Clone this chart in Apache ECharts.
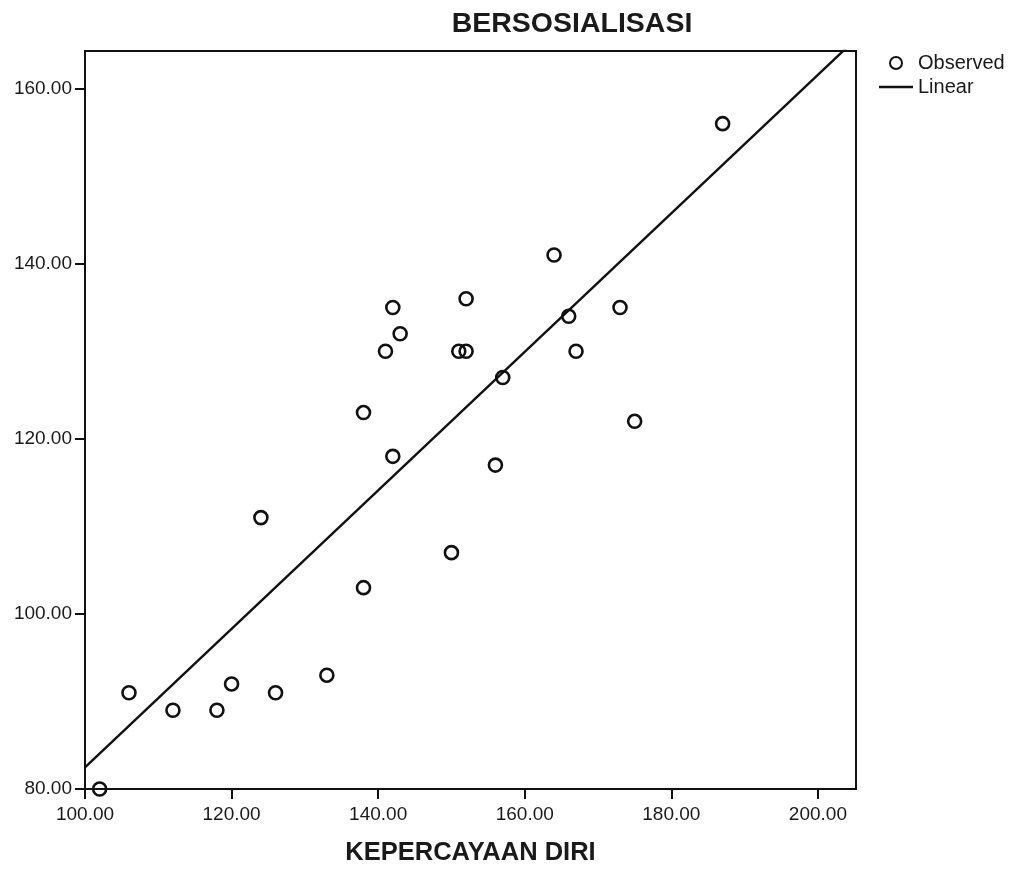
<!DOCTYPE html>
<html>
<head>
<meta charset="utf-8">
<script src="https://cdn.jsdelivr.net/npm/echarts@6/dist/echarts.min.js"></script>
<style>html,body{margin:0;padding:0;background:#fff;}#c{width:1013px;height:871px;}</style>
</head>
<body>
<div id="c"></div>
<script>
var kepercayaanDiri = [102,106,112,118,120,126,133,124,138,138,142,142,143,141,151,152,152,156,157,164,166,167,173,175,150,187];
var bersosialisasi  = [80, 91, 89, 89, 92, 91, 93, 111,103,123,118,135,132,130,130,130,136,117,127,141,134,130,135,122,107,156];
var xTicks = [100,120,140,160,180,200];
var yTicks = [80,100,120,140,160];

var observed = kepercayaanDiri.map(function(x,i){return [x, bersosialisasi[i]];});
// least-squares linear fit (as in the original "Linear" fit line)
var n = kepercayaanDiri.length, mx = 0, my = 0;
for (var i=0;i<n;i++){mx+=kepercayaanDiri[i];my+=bersosialisasi[i];}
mx/=n; my/=n;
var sxy=0,sxx=0;
for (var i=0;i<n;i++){sxy+=(kepercayaanDiri[i]-mx)*(bersosialisasi[i]-my);sxx+=(kepercayaanDiri[i]-mx)*(kepercayaanDiri[i]-mx);}
var b = sxy/sxx, a = my - b*mx;
var xMin = 100, xMax = 205.2, yMin = 80, yMax = 164.3;
var fitLine = [[xMin, a+b*xMin],[xMax, a+b*xMax]];

var font = 'Liberation Sans, Arial, sans-serif';
var chart = echarts.init(document.getElementById('c'));
chart.setOption({
  animation: false,
  backgroundColor: '#fff',
  title: {
    text: 'BERSOSIALISASI', left: 572, top: 10, textAlign: 'center', padding: 0,
    textStyle: {fontFamily: font, fontSize: 28.5, fontWeight: 'bold', color: '#1a1a1a'}
  },
  legend: {
    orient: 'vertical', left: 874, top: 48, itemWidth: 34, itemHeight: 12, itemGap: 4,
    textStyle: {fontFamily: font, fontSize: 20, color: '#1a1a1a'},
    data: [{name: 'Observed'}, {name: 'Linear', icon: 'path://M0,0H34V2.4H0Z', itemStyle: {color: '#111'}}]
  },
  grid: {left: 85, top: 51, right: 157, bottom: 81, show: true, borderColor: '#111', borderWidth: 2},
  xAxis: {
    type: 'value', min: xMin, max: xMax,
    name: 'KEPERCAYAAN DIRI', nameLocation: 'middle', nameGap: 51,
    nameTextStyle: {fontFamily: font, fontSize: 25.5, fontWeight: 'bold', color: '#1a1a1a'},
    axisLine: {show: true, lineStyle: {color: '#111', width: 2}},
    axisTick: {show: true, length: 10, lineStyle: {color: '#111', width: 2}, customValues: xTicks},
    axisLabel: {fontFamily: font, fontSize: 19, color: '#1a1a1a', margin: 16, customValues: xTicks,
      formatter: function(v){return v.toFixed(2);}},
    splitLine: {show: false}
  },
  yAxis: {
    type: 'value', min: yMin, max: yMax,
    axisLine: {show: true, lineStyle: {color: '#111', width: 2}},
    axisTick: {show: true, length: 10, lineStyle: {color: '#111', width: 2}, customValues: yTicks},
    axisLabel: {fontFamily: font, fontSize: 19, color: '#1a1a1a', margin: 13, customValues: yTicks,
      formatter: function(v){return v.toFixed(2);}},
    splitLine: {show: false}
  },
  series: [
    {
      name: 'Observed', type: 'scatter', data: observed, symbol: 'circle', symbolSize: 13,
      itemStyle: {color: 'rgba(255,255,255,0)', borderColor: '#111', borderWidth: 2.6, opacity: 1}
    },
    {
      name: 'Linear', type: 'line', data: fitLine, symbol: 'none', clip: true,
      lineStyle: {color: '#111', width: 2.4}, itemStyle: {color: '#111'}
    }
  ]
});
</script>
</body>
</html>
